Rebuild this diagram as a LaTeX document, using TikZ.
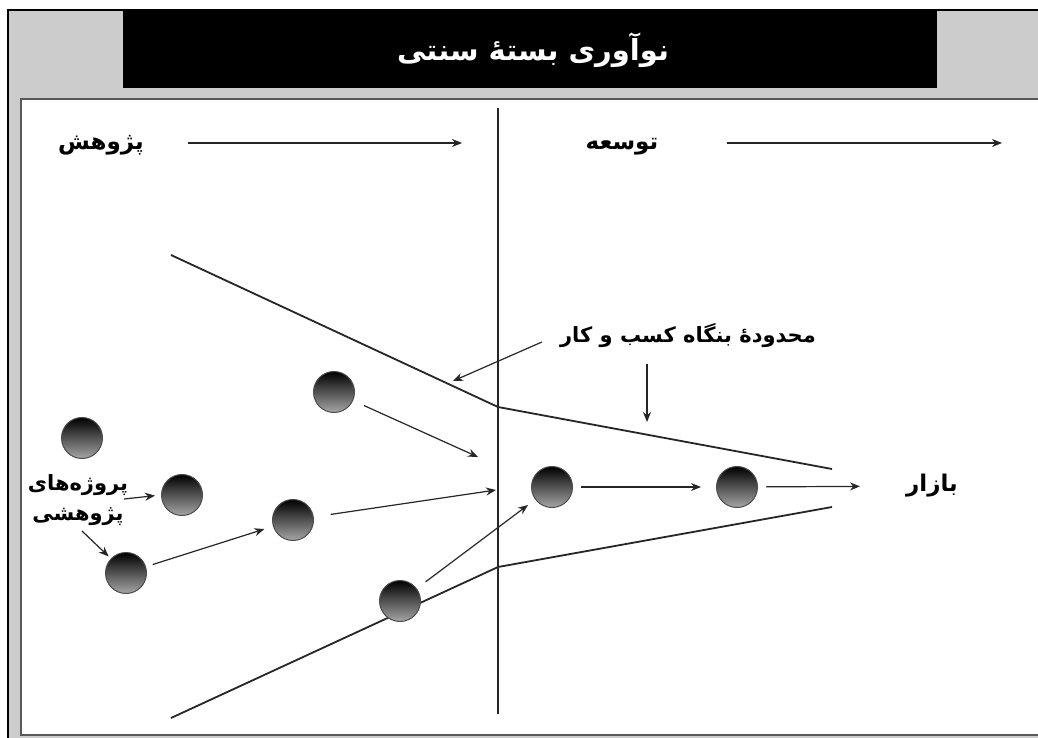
\documentclass[tikz,border=0pt]{standalone}
\usepackage{fontspec}
\usetikzlibrary{arrows.meta}
\newfontfamily\fafont[Script=Arabic, BoldFont=DejaVu Sans Bold]{DejaVu Sans}
\TeXXeTstate=1
\newcommand{\fa}[1]{{\fafont\bfseries\beginR #1\endR}}

\tikzset{
  ball/.style={circle, minimum size=41pt, inner sep=0pt, draw=gray!60!black,
    line width=1pt, top color=black, bottom color=gray!70},
  lbl/.style={font=\fontsize{23}{30}\selectfont, inner sep=2pt, align=center},
  flow/.style={-{Stealth[length=10pt,width=8pt]}, line width=1.2pt, black!85},
  bound/.style={line width=1.8pt, black!85},
}

\begin{document}
\begin{tikzpicture}[x=1pt,y=-1pt]
  \useasboundingbox (0,0) rectangle (1038,738);
  % frame and title bar
  \fill[gray!40] (8,10) rectangle (1038,738);
  \draw[line width=2pt] (8,738) -- (8,10) -- (1038,10);
  \fill[black] (123,11) rectangle (937,88);
  \node[lbl, text=white, font=\fontsize{29}{36}\selectfont] (title) at (533,50)
    {\fa{نوآوری بستهٔ سنتی}};
  \fill[white, draw=black!65, line width=2pt] (21,99) rectangle (1040,735);
  % phases
  \node[lbl] (res) at (101,145) {\fa{پژوهش}};
  \node[lbl] (dev) at (622,147) {\fa{توسعه}};
  \coordinate (rA) at (188,143); \coordinate (rB) at (462,143);
  \coordinate (dA) at (727,143); \coordinate (dB) at (1002,143);
  \draw[flow] (rA) -- (rB);
  \draw[flow] (dA) -- (dB);
  \coordinate (vT) at (498,108); \coordinate (vB) at (498,714);
  \draw[line width=1.4pt, black!85] (vT) -- (vB);
  % funnel of the firm
  \coordinate (uA) at (171,255); \coordinate (uK) at (498,407); \coordinate (uE) at (832,469);
  \coordinate (lA) at (171,718); \coordinate (lK) at (498,567); \coordinate (lE) at (832,507);
  \draw[bound] (uA) -- (uK) -- (uE);
  \draw[bound] (lA) -- (lK) -- (lE);
  % projects
  \node[ball] (c1) at (82,438) {};
  \node[ball] (c2) at (182,495) {};
  \node[ball] (c3) at (126,573) {};
  \node[ball] (c4) at (293,520) {};
  \node[ball] (c5) at (334,392) {};
  \node[ball] (c6) at (400,601) {};
  \node[ball] (c7) at (552,487) {};
  \node[ball] (c8) at (737,487) {};
  % labels
  \node[lbl, inner sep=0pt, font=\fontsize{21}{30}\selectfont] (proj) at (78,500)
    {\fa{پروژه‌های}\\\fa{پژوهشی}};
  \node[lbl, font=\fontsize{21}{28}\selectfont] (firm) at (688,336)
    {\fa{محدودهٔ بنگاه کسب و کار}};
  \node[lbl] (mkt) at (932,486) {\fa{بازار}};
  \coordinate (p5) at (478,457);
  \coordinate (p4) at (496,490);
  \coordinate (fU) at (453,381);
  \coordinate (fD) at (647,422);
  % arrows
  \draw[flow] ([xshift=-16pt,yshift=-6pt]firm.west) -- (fU);
  \draw[flow] ([xshift=-41pt,yshift=-14pt]firm.south) -- (fD);
  \draw[flow, shorten >=6pt] ([xshift=46pt,yshift=1pt]proj.center) -- (c2.west);
  \draw[flow, shorten >=3pt] ([xshift=4pt,yshift=-31pt]proj.center) -- (c3);
  \draw[flow, shorten <=7pt, shorten >=9pt] (c3) -- (c4);
  \draw[flow, shorten <=17pt] (c4) -- (p4);
  \draw[flow, shorten <=12pt] (c5) -- (p5);
  \draw[flow, shorten <=11pt, shorten >=9pt] (c6) -- (c7);
  \draw[flow, shorten <=8pt, shorten >=15pt] (c7) -- (c8);
  \draw[flow, shorten <=8pt, shorten >=44pt] (c8) -- (mkt);
\end{tikzpicture}
\end{document}
